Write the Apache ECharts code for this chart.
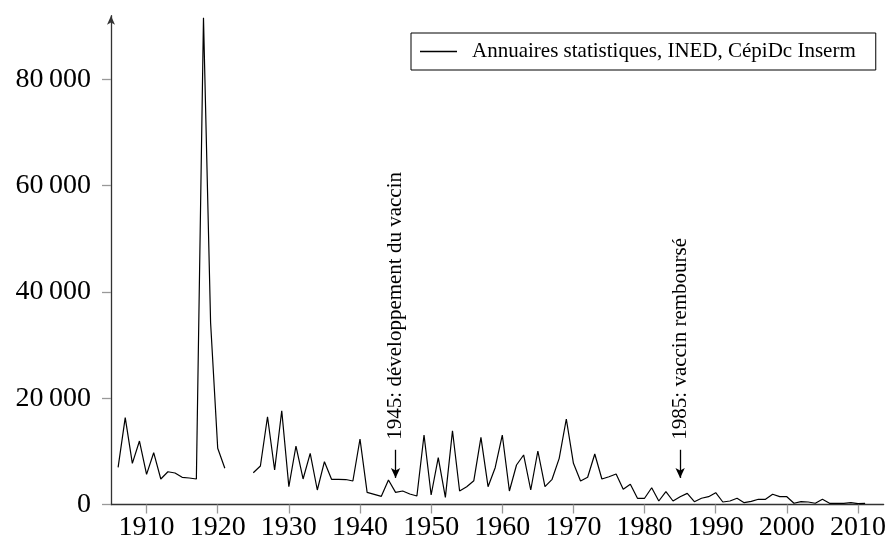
<!DOCTYPE html>
<html>
<head>
<meta charset="utf-8">
<script src="https://cdn.jsdelivr.net/npm/echarts@6/dist/echarts.min.js"></script>
<style>
html,body{margin:0;padding:0;background:#fff;}
#chart{width:889px;height:548px;}
</style>
</head>
<body>
<div id="chart"></div>
<script>
// Years (null value = missing year)
const years = [1906,1907,1908,1909,1910,1911,1912,1913,1914,1915,1916,1917,1918,1919,1920,1921,1922,1923,1924,
  1925,1926,1927,1928,1929,1930,1931,1932,1933,1934,1935,1936,1937,1938,1939,1940,1941,1942,1943,1944,1945,
  1946,1947,1948,1949,1950,1951,1952,1953,1954,1955,1956,1957,1958,1959,1960,1961,1962,1963,1964,1965,
  1966,1967,1968,1969,1970,1971,1972,1973,1974,1975,1976,1977,1978,1979,1980,1981,1982,1983,1984,1985,
  1986,1987,1988,1989,1990,1991,1992,1993,1994,1995,1996,1997,1998,1999,2000,2001,2002,2003,2004,2005,
  2006,2007,2008,2009,2010,2011];
// Deaths from influenza
const deaths = [7000,16340,7750,11950,5680,9750,4800,6170,5930,5120,4990,4800,91600,34200,10600,6810,null,null,null,
  5980,7250,16520,6490,17650,3350,11010,4800,9630,2730,8060,4740,4740,4700,4420,12330,2290,1920,1540,4610,2290,
  2540,1980,1600,13080,1790,8810,1350,13890,2540,3350,4480,12650,3350,6930,13080,2540,7430,9320,2730,10070,
  3350,4740,8690,16090,7750,4420,5120,9500,4800,5230,5740,2860,3800,1170,1170,3160,660,2410,660,1470,
  2100,530,1170,1470,2220,470,660,1170,340,600,980,980,1920,1470,1470,230,530,470,230,980,
  230,230,230,340,170,230];
const seriesName = 'Annuaires statistiques, INED, CépiDc Inserm';
const xTicks = [1910,1920,1930,1940,1950,1960,1970,1980,1990,2000,2010];
const yTicks = [0,20000,40000,60000,80000];
const annotations = [
  {year: 1945, text: '1945: développement du vaccin'},
  {year: 1985, text: '1985: vaccin remboursé'}
];
const arrowTop = 10300, arrowBottom = 5000, textBase = 12200;

const serif = "'Liberation Serif', 'DejaVu Serif', serif";
const chart = echarts.init(document.getElementById('chart'), null, {renderer: 'canvas'});
const fmt = v => {
  const s = String(Math.round(v));
  return s.length > 3 ? s.slice(0, s.length - 3) + '\u2009' + s.slice(-3) : s;
};

chart.setOption({
  animation: false,
  backgroundColor: '#fff',
  grid: {left: 111, right: 0, top: 15.7, bottom: 43.5, containLabel: false},
  legend: {
    show: true,
    data: [{name: seriesName, icon: 'rect'}],
    left: 411, top: 33,
    orient: 'horizontal',
    borderColor: '#000', borderWidth: 1,
    padding: [8, 20, 8, 9],
    itemWidth: 37, itemHeight: 1.3,
    textStyle: {fontFamily: serif, fontSize: 21, color: '#000', padding: [0, 0, 0, 10]},
    itemStyle: {color: '#000', borderWidth: 0}
  },
  xAxis: {
    type: 'value', min: 1905, max: 2013.6,
    axisLine: {show: true, onZero: false, lineStyle: {color: '#333', width: 1.3}},
    axisTick: {show: true, length: 9, lineStyle: {color: '#999', width: 1.3}, customValues: xTicks},
    axisLabel: {fontFamily: serif, fontSize: 28, color: '#000', margin: 9, customValues: xTicks,
      formatter: v => String(v)},
    splitLine: {show: false}
  },
  yAxis: {
    type: 'value', min: 0, max: 92000,
    axisLine: {show: true, lineStyle: {color: '#333', width: 1.3}, symbol: ['none', 'arrow'], symbolSize: [6, 9]},
    axisTick: {show: true, length: 9, lineStyle: {color: '#999', width: 1.3}, customValues: yTicks},
    axisLabel: {fontFamily: serif, fontSize: 28, color: '#000', margin: 20, customValues: yTicks, formatter: fmt},
    splitLine: {show: false}
  },
  series: [{
    name: seriesName,
    type: 'line',
    data: years.map((y, i) => [y, deaths[i]]),
    symbol: 'none', showSymbol: false,
    connectNulls: false,
    lineStyle: {color: '#000', width: 1.2},
    itemStyle: {color: '#000'},
    markLine: {
      silent: true, animation: false,
      symbol: ['none', 'arrow'], symbolSize: [7, 10],
      lineStyle: {color: '#000', width: 1.3, type: 'solid'},
      label: {show: false},
      data: annotations.map(a => [{coord: [a.year, arrowTop]}, {coord: [a.year, arrowBottom]}])
    },
    markPoint: {
      silent: true, animation: false,
      symbol: 'circle', symbolSize: 0,
      data: annotations.map(a => ({
        coord: [a.year, textBase],
        label: {show: true, formatter: a.text, rotate: 90, position: 'inside', align: 'left', verticalAlign: 'middle',
          fontFamily: serif, fontSize: 21, color: '#000'}
      }))
    }
  }]
});
</script>
</body>
</html>
